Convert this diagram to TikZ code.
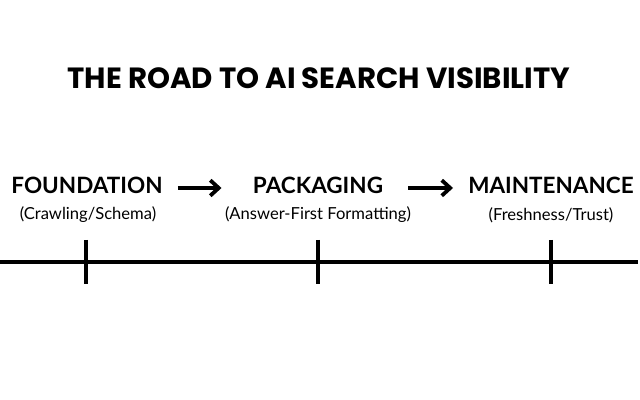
\documentclass[tikz,border=0pt]{standalone}
\usepackage{fontspec}
\setmainfont{Lato}
\newfontfamily\titlefont{Poppins}
\usepackage{tikz}
\usetikzlibrary{arrows.meta}
\usetikzlibrary{positioning}
\tikzstyle{title} = [font=\titlefont\bfseries\fontsize{20.8}{24}\selectfont, inner sep=0pt]
\tikzstyle{stage} = [font=\bfseries\fontsize{16}{19}\selectfont, inner sep=0pt, text height=0.72em, text depth=0pt]
\tikzstyle{sub} = [font=\fontsize{11.8}{14}\selectfont, inner sep=0pt]
\tikzstyle{step arrow} = [line width=2.7pt, -{Straight Barb[length=6pt,width=11pt]}]
\tikzstyle{road} = [line width=2.2pt]

\begin{document}
\begin{tikzpicture}
\useasboundingbox (0,0) rectangle (16,10);

\node (head) [title] at (7.97,8.05) {THE ROAD TO AI SEARCH VISIBILITY};

\node (found) [stage] at (2.175,5.3) {FOUNDATION};
\node (pack) [stage] at (7.95,5.3) {PACKAGING};
\node (maint) [stage] at (13.775,5.3) {MAINTENANCE};

\node (foundsub) [sub] at (2.2,4.63) {(Crawling/Schema)};
\node (packsub) [sub] at (7.95,4.63) {(Answer-First Formatting)};
\node (maintsub) [sub] at (13.775,4.63) {(Freshness/Trust)};

\draw [step arrow, shorten <=0.375cm, shorten >=0.78cm] (found.east) -- (pack.west);
\draw [step arrow, shorten <=0.625cm, shorten >=0.375cm] (pack.east) -- (maint.west);

\coordinate (roadstart) at (0,3.45);
\coordinate (roadend) at (15.95,3.45);
\draw [road] (roadstart) -- (roadend);
\foreach \x/\name in {2.15/t1, 7.95/t2, 13.775/t3}{
  \coordinate (\name top) at (\x,4.0);
  \coordinate (\name bot) at (\x,2.9);
  \draw [road] (\name top) -- (\name bot);
}
\end{tikzpicture}
\end{document}
